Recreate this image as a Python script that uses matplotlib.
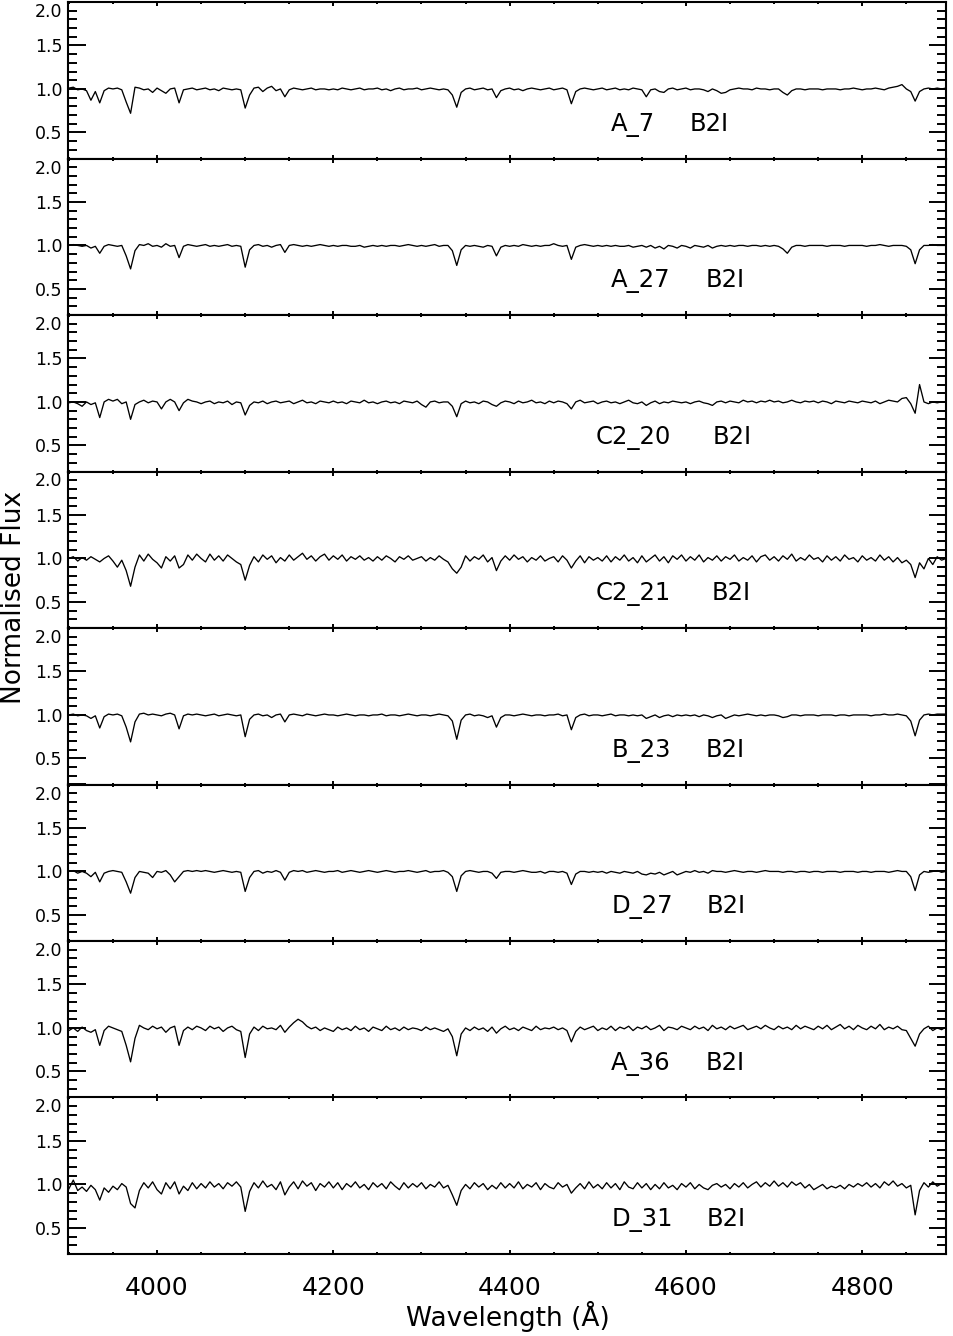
import numpy as np
import matplotlib
matplotlib.use('Agg')
from matplotlib import pyplot as plt
from matplotlib.ticker import MultipleLocator, FixedLocator, FormatStrFormatter
import matplotlib.transforms as mtransforms

# common wavelength grid (5 A sampling, 3900-4895 A)
wave = np.arange(3900, 4900, 5)

names = ['A_7', 'A_27', 'C2_20', 'C2_21', 'B_23', 'D_27', 'A_36', 'D_31']
sptypes = ['B2I', 'B2I', 'B2I', 'B2I', 'B2I', 'B2I', 'B2I', 'B2I']
name_x = [4515, 4515, 4497, 4497, 4516, 4516, 4515, 4516]
type_x = [4604, 4622, 4630, 4629, 4622, 4623, 4622, 4624]

f_a7 = [1.01, 1.02, 0.99, 1.00, 0.98, 0.87, 0.97, 0.84, 0.98, 1.01,
        1.00, 1.01, 0.99, 0.85, 0.72, 1.02, 1.01, 0.99, 1.00, 0.96,
        1.01, 0.98, 0.95, 1.00, 1.01, 0.84, 0.99, 1.00, 1.01, 0.99,
        1.00, 1.01, 0.99, 1.00, 0.98, 1.01, 1.00, 0.99, 1.00, 0.99,
        0.78, 0.93, 1.01, 1.02, 0.97, 1.01, 1.03, 0.98, 1.00, 0.91,
        0.99, 1.01, 1.00, 0.99, 1.00, 1.01, 0.99, 1.00, 1.00, 0.99,
        1.00, 0.99, 1.01, 1.00, 0.99, 1.00, 1.01, 0.99, 1.00, 1.00,
        1.01, 0.99, 1.00, 0.98, 1.00, 1.01, 0.99, 1.00, 1.00, 1.01,
        0.99, 1.00, 1.01, 1.00, 0.99, 1.00, 0.99, 0.93, 0.79, 0.96,
        1.00, 1.01, 0.99, 1.00, 1.01, 0.99, 1.00, 0.90, 0.98, 1.00,
        1.01, 0.99, 1.00, 0.98, 1.00, 1.01, 1.00, 0.99, 1.00, 1.01,
        0.99, 1.00, 1.01, 0.99, 0.83, 0.97, 1.00, 1.01, 1.00, 0.99,
        1.00, 1.01, 0.99, 1.00, 1.01, 0.99, 1.00, 0.99, 1.01, 1.00,
        0.99, 0.91, 0.99, 1.00, 0.97, 0.96, 1.00, 1.01, 0.99, 1.00,
        1.01, 0.99, 1.00, 1.00, 0.99, 0.97, 1.00, 0.98, 0.95, 0.96,
        0.99, 1.00, 1.01, 1.00, 1.00, 0.99, 1.01, 1.00, 1.00, 0.99,
        1.00, 1.00, 0.96, 0.93, 0.98, 1.00, 1.00, 0.99, 1.00, 1.00,
        1.00, 0.99, 1.00, 1.00, 1.00, 0.99, 1.00, 1.00, 1.01, 1.00,
        0.99, 1.00, 1.00, 1.01, 1.00, 0.99, 1.01, 1.02, 1.03, 1.05,
        1.00, 0.97, 0.86, 0.97, 1.00, 1.01, 1.00, 1.01, 1.00, 1.01]

f_a27 = [1.00, 1.01, 1.00, 0.99, 1.00, 0.97, 0.99, 0.91, 0.99, 1.01,
         1.00, 0.99, 1.00, 0.88, 0.73, 0.94, 1.01, 1.00, 1.02, 0.99,
         1.00, 0.98, 1.02, 0.99, 1.00, 0.86, 0.99, 1.01, 1.00, 0.99,
         1.00, 1.01, 0.99, 1.00, 0.99, 1.00, 1.01, 0.99, 1.00, 0.99,
         0.75, 0.95, 1.00, 1.01, 0.99, 1.00, 0.98, 1.00, 1.01, 0.92,
         1.00, 1.01, 1.00, 0.99, 1.00, 0.99, 1.00, 1.01, 1.00, 0.99,
         1.00, 0.99, 1.00, 1.00, 0.99, 0.99, 1.00, 0.98, 0.99, 1.00,
         0.99, 1.00, 0.99, 1.00, 1.00, 0.99, 1.00, 1.01, 1.00, 0.99,
         1.00, 0.99, 1.00, 1.01, 0.99, 1.00, 1.00, 0.94, 0.77, 0.95,
         1.00, 0.99, 1.00, 0.99, 0.98, 1.00, 0.99, 0.88, 0.98, 1.00,
         0.99, 1.00, 0.99, 1.01, 1.00, 0.99, 1.00, 0.99, 1.00, 1.00,
         1.02, 1.00, 0.99, 1.00, 0.84, 0.98, 1.00, 1.01, 1.00, 0.99,
         1.00, 0.99, 1.00, 0.99, 1.00, 0.99, 0.99, 1.00, 0.98, 0.99,
         1.00, 0.98, 1.00, 0.97, 0.99, 0.96, 1.00, 0.99, 0.97, 1.00,
         0.99, 0.97, 1.00, 0.99, 0.98, 1.00, 0.97, 0.99, 1.00, 0.99,
         1.00, 0.99, 1.00, 1.00, 0.99, 1.00, 1.00, 0.99, 1.00, 0.99,
         1.00, 0.99, 0.96, 0.91, 0.98, 1.00, 1.00, 0.99, 1.00, 1.00,
         1.00, 1.00, 0.99, 1.00, 1.00, 1.00, 0.99, 1.00, 1.00, 1.00,
         1.00, 0.99, 1.00, 1.00, 1.01, 1.00, 0.99, 1.00, 1.00, 1.00,
         0.99, 0.95, 0.79, 0.95, 1.00, 1.00, 1.01, 1.00, 1.00, 1.00]

f_c2_20 = [0.99, 1.00, 0.98, 0.95, 1.00, 0.97, 0.99, 0.82, 1.00, 1.03,
           1.01, 1.03, 0.98, 1.00, 0.80, 0.97, 1.00, 1.02, 0.99, 1.01,
           1.00, 0.92, 1.00, 1.03, 1.00, 0.90, 0.99, 1.03, 1.01, 1.00,
           0.98, 1.00, 1.01, 0.98, 1.00, 0.99, 1.01, 0.97, 1.00, 0.99,
           0.85, 0.96, 1.00, 0.99, 1.01, 0.98, 1.00, 1.01, 0.99, 1.00,
           1.01, 0.98, 1.00, 1.02, 0.99, 1.00, 0.98, 1.01, 1.00, 0.99,
           1.01, 0.99, 1.00, 0.98, 1.01, 1.00, 0.99, 1.02, 0.99, 1.00,
           0.98, 1.00, 1.01, 0.99, 1.00, 0.98, 1.01, 1.00, 0.99, 1.01,
           0.97, 0.94, 1.00, 1.01, 0.99, 1.00, 1.00, 0.95, 0.83, 0.98,
           1.01, 0.99, 1.00, 0.98, 1.01, 1.00, 0.97, 0.95, 0.99, 1.01,
           1.00, 0.98, 1.01, 0.99, 1.00, 1.02, 0.99, 1.00, 0.98, 1.01,
           0.99, 1.01, 1.00, 0.98, 0.92, 1.00, 1.02, 0.99, 1.00, 1.01,
           0.98, 1.00, 1.01, 0.99, 1.00, 0.98, 1.00, 1.02, 0.99, 0.98,
           1.00, 0.96, 0.99, 1.01, 0.98, 1.00, 0.99, 1.01, 1.00, 0.99,
           1.00, 0.98, 1.00, 1.01, 0.99, 0.98, 0.96, 1.00, 1.01, 0.99,
           1.01, 1.00, 0.99, 1.02, 1.00, 1.01, 0.99, 1.01, 1.00, 1.02,
           1.00, 1.01, 0.99, 1.00, 1.02, 1.00, 0.99, 1.01, 1.00, 1.01,
           0.99, 1.01, 1.00, 0.98, 1.01, 1.00, 0.99, 1.01, 1.00, 0.99,
           1.01, 1.00, 0.99, 1.01, 0.98, 1.00, 1.02, 1.01, 1.00, 1.04,
           1.05, 0.98, 0.87, 1.20, 1.00, 0.98, 1.00, 0.99, 1.00, 1.00]

f_c2_21 = [1.00, 1.02, 0.97, 1.01, 0.98, 1.02, 0.99, 0.96, 1.00, 1.03,
           0.97, 0.90, 0.98, 0.86, 0.68, 0.90, 1.04, 0.97, 1.05, 0.99,
           0.95, 0.89, 1.02, 0.97, 1.03, 0.89, 0.93, 1.04, 0.98, 1.05,
           1.00, 0.96, 1.05, 0.98, 1.03, 0.97, 1.04, 1.00, 0.96, 0.93,
           0.75, 0.92, 1.02, 0.96, 1.04, 0.99, 1.03, 0.95, 1.01, 0.97,
           1.04, 0.98, 1.02, 1.06, 0.99, 1.03, 0.97, 1.02, 1.05, 0.98,
           1.03, 0.99, 1.04, 0.97, 1.02, 0.99, 1.03, 0.98, 1.01, 0.97,
           1.02, 0.98, 1.03, 1.00, 0.96, 1.02, 0.99, 1.03, 0.98, 1.00,
           1.02, 0.97, 1.01, 0.98, 1.03, 0.99, 0.96, 0.88, 0.83, 0.90,
           1.03, 0.97, 1.02, 0.99, 1.04, 0.96, 1.01, 0.86, 0.97, 1.03,
           0.98, 1.04, 0.99, 1.02, 0.96, 1.01, 0.98, 1.03, 0.97, 1.00,
           1.02, 0.96, 1.03, 0.98, 0.89, 0.97, 1.03, 0.95, 1.02, 0.98,
           1.01, 0.97, 1.03, 0.96, 1.02, 0.98, 1.04, 0.97, 1.01, 0.95,
           1.03, 0.96, 1.00, 1.04, 0.97, 1.02, 0.95, 1.03, 0.99, 1.04,
           0.97, 1.02, 0.98, 1.04, 0.96, 1.01, 0.98, 1.03, 0.97, 1.02,
           0.99, 1.04, 0.97, 1.01, 0.98, 1.03, 0.96, 1.02, 1.04, 0.98,
           1.02, 0.97, 1.03, 0.99, 1.05, 0.97, 1.01, 0.98, 1.04, 0.99,
           1.01, 0.96, 1.03, 0.98, 1.02, 0.97, 1.04, 0.99, 1.01, 0.96,
           1.03, 0.98, 1.01, 0.97, 1.04, 0.98, 1.02, 0.96, 1.01, 0.95,
           0.98, 0.93, 0.78, 0.95, 0.88, 1.00, 0.93, 1.02, 0.98, 1.00]

f_b23 = [1.00, 1.01, 0.99, 1.00, 0.99, 0.96, 0.99, 0.85, 0.98, 1.01,
         1.00, 1.01, 0.99, 0.86, 0.69, 0.92, 1.01, 1.02, 1.00, 1.01,
         1.00, 0.99, 1.01, 1.02, 1.00, 0.84, 0.99, 1.01, 1.00, 1.01,
         1.00, 0.99, 1.00, 1.01, 0.99, 1.00, 1.01, 1.00, 0.99, 1.00,
         0.75, 0.95, 1.00, 1.01, 0.99, 1.00, 0.97, 1.00, 1.01, 0.92,
         1.00, 1.01, 1.00, 0.99, 1.01, 1.00, 0.99, 1.00, 1.01, 1.00,
         1.00, 0.99, 1.00, 1.01, 1.00, 0.99, 1.00, 1.00, 0.99, 1.00,
         1.00, 1.01, 0.99, 1.00, 1.00, 0.99, 1.00, 1.01, 1.00, 0.99,
         1.00, 1.00, 0.99, 1.00, 1.01, 1.00, 0.99, 0.93, 0.72, 0.94,
         1.00, 1.01, 0.99, 1.00, 0.99, 0.97, 0.99, 0.86, 0.97, 1.00,
         1.00, 0.99, 1.00, 1.01, 1.00, 0.99, 1.00, 1.00, 0.99, 1.00,
         1.00, 1.01, 0.99, 1.00, 0.83, 0.97, 1.00, 1.01, 0.99, 1.00,
         1.00, 0.99, 1.00, 1.01, 0.99, 1.00, 1.00, 0.99, 1.00, 0.99,
         1.00, 0.96, 0.98, 1.00, 0.97, 0.99, 1.00, 0.98, 1.00, 0.99,
         1.00, 0.99, 1.00, 0.98, 1.00, 0.99, 0.97, 0.99, 1.00, 0.96,
         0.98, 1.00, 0.99, 1.00, 1.01, 1.00, 0.99, 1.00, 0.99, 1.00,
         1.00, 0.99, 0.97, 0.98, 1.00, 1.00, 0.99, 1.00, 1.00, 1.00,
         0.99, 1.00, 1.00, 1.00, 0.99, 1.00, 1.00, 0.99, 1.00, 1.00,
         1.00, 1.00, 0.99, 1.00, 1.00, 1.01, 1.00, 1.00, 1.01, 1.00,
         0.99, 0.93, 0.76, 0.94, 1.00, 1.01, 1.00, 1.01, 1.01, 1.01]

f_d27 = [1.00, 1.01, 0.98, 1.00, 0.98, 0.94, 0.99, 0.88, 0.98, 1.00,
         1.01, 1.00, 0.99, 0.88, 0.75, 0.93, 1.00, 0.99, 0.98, 0.93,
         1.00, 0.99, 1.01, 0.96, 0.88, 0.94, 1.00, 1.01, 1.00, 1.01,
         1.00, 1.01, 1.00, 0.99, 1.00, 1.01, 1.00, 0.99, 1.00, 0.99,
         0.77, 0.93, 1.00, 1.01, 0.98, 1.00, 0.99, 1.01, 0.99, 0.90,
         0.99, 1.01, 1.00, 1.01, 0.99, 1.00, 1.01, 1.00, 0.99, 1.00,
         1.00, 1.01, 0.99, 1.00, 1.01, 1.00, 0.99, 1.00, 1.01, 1.00,
         0.99, 1.00, 1.01, 1.00, 0.99, 1.00, 1.00, 1.01, 1.00, 0.99,
         1.00, 1.01, 0.99, 1.00, 1.00, 1.01, 0.99, 0.94, 0.77, 0.95,
         1.00, 1.01, 1.00, 0.99, 1.00, 1.00, 0.98, 0.92, 0.99, 1.00,
         1.00, 0.99, 1.00, 1.01, 1.00, 0.99, 0.99, 1.00, 0.98, 1.00,
         1.00, 0.99, 1.00, 0.98, 0.85, 0.97, 1.00, 1.00, 0.99, 1.00,
         0.99, 1.00, 0.98, 1.00, 0.99, 0.98, 1.00, 0.99, 0.98, 1.00,
         0.97, 0.96, 0.98, 0.97, 0.99, 0.96, 0.98, 1.00, 0.96, 0.98,
         1.00, 0.99, 1.01, 0.99, 1.00, 0.98, 1.01, 1.00, 1.00, 0.99,
         1.00, 1.01, 1.00, 0.99, 1.00, 1.00, 0.99, 1.00, 1.01, 1.00,
         1.00, 1.00, 0.99, 1.00, 1.00, 0.99, 1.00, 1.00, 0.99, 1.00,
         1.00, 0.99, 1.00, 1.00, 1.00, 0.99, 1.00, 1.00, 1.00, 0.99,
         1.00, 1.00, 0.99, 1.00, 1.00, 1.00, 0.99, 1.00, 1.01, 1.00,
         1.00, 0.94, 0.78, 0.96, 1.00, 0.99, 1.00, 1.01, 0.99, 1.00]

f_a36 = [0.97, 1.00, 0.96, 1.01, 0.97, 0.95, 0.98, 0.80, 0.97, 1.02,
         1.00, 0.98, 0.96, 0.80, 0.61, 0.88, 1.03, 1.00, 0.98, 1.02,
         0.99, 1.01, 0.95, 1.00, 1.02, 0.80, 0.97, 1.01, 0.98, 1.02,
         1.00, 0.97, 1.02, 0.99, 1.01, 0.96, 1.00, 1.02, 0.98, 0.96,
         0.66, 0.93, 1.01, 0.97, 1.02, 0.99, 1.00, 0.98, 1.03, 0.95,
         1.01, 1.06, 1.10, 1.07, 1.02, 0.99, 1.01, 0.97, 1.00, 0.98,
         0.96, 1.01, 0.98, 1.00, 0.97, 1.02, 0.98, 1.00, 0.96, 1.01,
         0.99, 0.97, 1.02, 0.98, 1.00, 0.97, 1.01, 0.98, 1.00, 0.99,
         0.97, 1.01, 0.98, 1.00, 0.98, 0.96, 0.99, 0.90, 0.68, 0.93,
         1.00, 0.97, 1.01, 0.98, 1.00, 0.96, 1.01, 0.94, 0.99, 1.02,
         0.98, 1.00, 0.97, 1.01, 0.99, 0.97, 1.02, 0.98, 1.00, 0.99,
         1.01, 0.98, 1.00, 0.97, 0.84, 0.96, 1.01, 0.98, 1.00, 1.02,
         0.97, 1.00, 0.98, 1.02, 0.97, 1.01, 0.99, 1.02, 0.97, 1.01,
         0.99, 1.02, 0.98, 1.00, 1.03, 0.97, 1.01, 1.00, 0.98, 1.02,
         1.00, 0.98, 1.02, 0.99, 1.01, 0.97, 1.03, 0.99, 1.01, 0.98,
         1.02, 0.99, 1.01, 1.03, 0.98, 1.00, 1.02, 0.99, 1.03, 1.00,
         0.98, 1.02, 0.99, 1.01, 0.98, 1.03, 0.99, 1.02, 1.00, 0.98,
         1.02, 0.99, 1.03, 0.98, 1.01, 1.04, 0.99, 1.02, 0.98, 1.03,
         1.00, 0.98, 1.02, 0.99, 1.04, 0.98, 1.01, 0.99, 1.02, 0.98,
         0.97, 0.88, 0.79, 0.93, 0.99, 1.02, 0.97, 1.00, 0.98, 1.01]

f_d31 = [0.95, 1.05, 0.93, 0.97, 0.92, 0.99, 0.94, 0.82, 0.96, 0.91,
         0.98, 0.94, 1.01, 0.97, 0.78, 0.73, 0.93, 1.02, 0.96, 1.03,
         0.94, 0.89, 1.02, 0.95, 1.03, 0.89, 0.98, 0.93, 1.02, 0.95,
         1.01, 0.96, 1.03, 0.97, 1.01, 0.95, 1.02, 0.98, 1.03, 0.97,
         0.69, 0.92, 1.02, 0.96, 1.04, 0.97, 1.00, 0.94, 1.03, 0.88,
         0.97, 1.03, 0.95, 1.04, 0.98, 1.02, 0.93, 1.01, 0.97, 1.03,
         0.96, 1.02, 0.94, 1.01, 0.97, 1.03, 0.96, 1.00, 0.94, 1.02,
         0.97, 1.01, 0.95, 1.03, 0.98, 0.94, 1.02, 0.96, 1.01, 0.97,
         1.02, 0.95, 1.00, 0.97, 1.03, 0.96, 0.99, 0.88, 0.76, 0.93,
         1.00, 0.95, 1.02, 0.97, 1.01, 0.94, 0.99, 0.95, 1.02, 0.96,
         1.01, 0.96, 1.03, 0.95, 1.00, 0.97, 1.02, 0.94, 1.01, 0.97,
         0.95, 1.02, 0.97, 1.00, 0.90, 0.96, 1.01, 0.95, 1.03, 0.96,
         1.00, 0.95, 1.02, 0.96, 1.01, 0.94, 1.03, 0.97, 0.95, 1.02,
         0.96, 1.01, 0.94, 1.00, 0.95, 1.02, 0.96, 0.99, 0.94, 1.01,
         0.97, 1.02, 0.95, 1.00, 0.96, 0.94, 0.99, 1.01, 0.97, 1.00,
         0.95, 1.01, 0.97, 1.02, 0.96, 1.00, 1.03, 0.97, 1.02, 0.98,
         1.04, 0.98, 1.02, 0.97, 1.03, 0.99, 1.02, 0.96, 1.00, 0.94,
         0.97, 1.00, 0.95, 0.98, 0.96, 0.99, 0.95, 1.00, 0.97, 1.01,
         0.98, 1.02, 0.97, 1.01, 0.96, 1.03, 0.99, 1.04, 0.98, 1.01,
         0.96, 0.99, 0.65, 0.93, 1.02, 0.97, 1.03, 0.98, 1.01, 1.00]

spectra = [f_a7, f_a27, f_c2_20, f_c2_21, f_b23, f_d27, f_a36, f_d31]

W, H = 954, 1336
fig = plt.figure(figsize=(W / 100, H / 100), dpi=100)
axes = fig.subplots(8, 1, sharex=True)
fig.subplots_adjust(left=68 / W, right=946 / W, top=1 - 2 / H, bottom=1 - 1254 / H, hspace=0)

for i, ax in enumerate(axes):
    ax.plot(wave, spectra[i], color='black', lw=0.95)
    ax.set_xlim(3899, 4895)
    ax.set_ylim(0.2, 2.0)
    ax.xaxis.set_major_locator(MultipleLocator(200))
    ax.xaxis.set_minor_locator(MultipleLocator(50))
    ax.yaxis.set_major_locator(FixedLocator([0.5, 1.0, 1.5, 2.0]))
    ax.yaxis.set_minor_locator(MultipleLocator(0.1))
    ax.yaxis.set_major_formatter(FormatStrFormatter('%.1f'))
    for s in ax.spines.values():
        s.set_linewidth(1.5)
    ax.tick_params(which='both', direction='in', top=True, right=True, width=1.4)
    ax.tick_params(axis='y', which='major', length=12.6, labelsize=12.5, pad=4)
    ax.tick_params(axis='y', which='minor', length=6.3)
    ax.tick_params(axis='x', which='major', length=2.6, labelsize=18, pad=16)
    ax.tick_params(axis='x', which='minor', length=1.3)
    ax.text(name_x[i], 0.52, names[i], fontsize=17.5, va='baseline')
    ax.text(type_x[i], 0.52, sptypes[i], fontsize=17.5, va='baseline')

fig.canvas.draw()
shift = mtransforms.ScaledTranslation(0, -8 / 100, fig.dpi_scale_trans)
for ax in axes:
    for t in ax.yaxis.get_major_ticks():
        if abs(t.get_loc() - 2.0) < 1e-6:
            t.label1.set_transform(t.label1.get_transform() + shift)

fig.text(508 / W, 1 - 1316 / H, 'Wavelength (Å)', fontsize=19, ha='center', va='center')
fig.text(14 / W, 1 - 597 / H, 'Normalised Flux', fontsize=19, rotation=90, ha='center', va='center')

fig.savefig('out.png', dpi=100)
